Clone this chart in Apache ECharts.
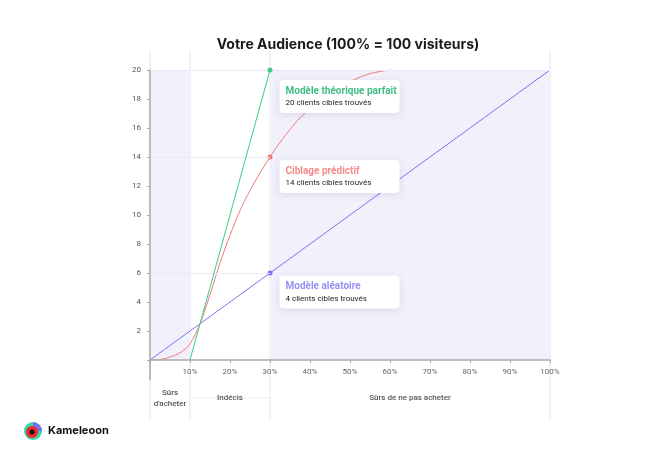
<!DOCTYPE html>
<html>
<head>
<meta charset="utf-8">
<title>Votre Audience</title>
<script src="https://cdn.jsdelivr.net/npm/echarts@6/dist/echarts.min.js"></script>
<style>
  html, body { margin: 0; padding: 0; background: #fff; }
  #chart { width: 665px; height: 460px; }
</style>
</head>
<body>
<div id="chart"></div>
<script>
// audience % (x) / clients cibles (y)
const parfaitX = [10, 30];
const parfaitY = [0, 20];
const predictifX = [0, 2.5, 5, 7.5, 10, 12.5, 15, 17.5, 20, 22.5, 25, 27.5, 30, 32.5, 35, 37.5, 40, 45, 50, 55, 60];
const predictifY = [0, 0.03, 0.2, 0.5, 1.1, 2.5, 4.5, 6.7, 8.6, 10.3, 11.7, 12.9, 14, 15, 15.9, 16.7, 17.3, 18.4, 19.2, 19.75, 20];
const aleatoireX = [0, 30, 100];
const aleatoireY = [0, 6, 20];

const segments = [[0, 10], [10, 30], [30, 100]];
const segmentLabels = ["Sûrs\nd'acheter", "Indécis", "Sûrs de ne pas acheter"];
const shaded = [[0, 10], [30, 100]];

const boxTitles = ["Modèle théorique parfait", "Ciblage prédictif", "Modèle aléatoire"];
const boxTexts = ["20 clients cibles trouvés", "14 clients cibles trouvés", "4 clients cibles trouvés"];
const colors = ["#3dcb8a", "#f07b7b", "#7a74f0"];
const boxTitleColors = ["#3fbf83", "#f58a8a", "#9690f5"];

const FONT = "Roboto, 'Noto Sans', sans-serif";

function makeData(xs, ys, idx, dy) {
  return xs.map(function (x, i) {
    if (x !== 30) return { value: [x, ys[i]], symbolSize: 0 };
    return {
      value: [x, ys[i]],
      symbolSize: 5,
      label: {
        show: true,
        position: [12, dy],
        formatter: '{t|' + boxTitles[idx] + '}\n{s|' + boxTexts[idx] + '}',
        backgroundColor: '#fff',
        borderRadius: 4,
        padding: [4, 6, 5, 6],
        width: 108,
        shadowBlur: 8,
        shadowOffsetY: 2,
        shadowColor: 'rgba(60,60,90,0.12)',
        rich: {
          t: { fontFamily: FONT, fontSize: 10, fontWeight: 'bold', color: boxTitleColors[idx], lineHeight: 14 },
          s: { fontFamily: FONT, fontSize: 8, color: '#222', lineHeight: 10 }
        }
      }
    };
  });
}

const chart = echarts.init(document.getElementById('chart'));

const option = {
  animation: false,
  title: {
    text: 'Votre Audience (100% = 100 visiteurs)',
    left: 343,
    textAlign: 'center',
    top: 33,
    textStyle: { fontFamily: "Inter, 'Open Sans', sans-serif", fontSize: 14, fontWeight: 'bold', color: '#1a1a1a' }
  },
  grid: { left: 150, right: 115, top: 70, bottom: 100 },
  xAxis: {
    type: 'value', min: 0, max: 100, interval: 10, z: 6,
    axisLine: { lineStyle: { color: '#aaa', width: 1.5 } },
    axisTick: { show: true, length: 3, lineStyle: { color: '#aaa' } },
    splitLine: { show: false },
    axisLabel: {
      margin: 8, fontSize: 8, color: '#666', fontFamily: FONT,
      formatter: function (v) { return v === 0 ? '' : v + '%'; }
    }
  },
  yAxis: {
    type: 'value', min: 0, max: 20, interval: 2, z: 6,
    axisLine: { show: true, lineStyle: { color: '#aaa', width: 1.5 } },
    axisTick: { show: true, length: 3, lineStyle: { color: '#aaa' } },
    splitLine: { show: false },
    axisLabel: {
      margin: 9, fontSize: 8, color: '#555', fontFamily: FONT,
      formatter: function (v) { return v === 0 ? '' : v; }
    }
  },
  series: [
    {
      name: 'fond', type: 'line', data: [], z: 1, silent: true,
      markArea: {
        silent: true,
        itemStyle: { color: '#f1f0fb' },
        data: shaded.map(function (s) { return [{ xAxis: s[0], yAxis: 0 }, { xAxis: s[1], yAxis: 20 }]; })
      },
      markLine: {
        silent: true, symbol: 'none', label: { show: false },
        lineStyle: { color: '#ebe9f8', width: 1, type: 'solid' },
        data: [
          [{ coord: [0, 20] }, { coord: [100, 20] }],
          [{ coord: [0, 14] }, { coord: [30, 14] }],
          [{ coord: [0, 6] }, { coord: [30, 6] }]
        ]
      }
    },
    {
      name: 'Modèle aléatoire', type: 'line', z: 3,
      data: makeData(aleatoireX, aleatoireY, 2, 5),
      lineStyle: { color: colors[2], width: 1 },
      itemStyle: { color: colors[2] },
      symbol: 'circle'
    },
    {
      name: 'Ciblage prédictif', type: 'line', z: 4, smooth: 0.3,
      data: makeData(predictifX, predictifY, 1, 5.5),
      lineStyle: { color: colors[1], width: 1 },
      itemStyle: { color: colors[1] },
      symbol: 'circle'
    },
    {
      name: 'Modèle théorique parfait', type: 'line', z: 5,
      data: makeData(parfaitX, parfaitY, 0, 12.5),
      lineStyle: { color: colors[0], width: 1 },
      itemStyle: { color: colors[0] },
      symbol: 'circle'
    }
  ]
};

chart.setOption(option);

// lignes verticales et libellés sous l'axe, placés avec l'échelle de l'axe x
const graphics = [];
const yTop = 50, yBottom = 420, yText = 398;
[0, 10, 30, 100].forEach(function (v) {
  const px = chart.convertToPixel({ xAxisIndex: 0 }, v);
  graphics.push({
    type: 'line', z: -1, silent: true,
    shape: { x1: px, y1: yTop, x2: px, y2: yBottom },
    style: { stroke: '#eeedf9', lineWidth: 1.5 }
  });
});
// prolongement de l'axe y sous l'axe x
const x0 = chart.convertToPixel({ xAxisIndex: 0 }, 0);
const y0 = chart.convertToPixel({ yAxisIndex: 0 }, 0);
graphics.push({
  type: 'line', silent: true,
  shape: { x1: x0, y1: y0, x2: x0, y2: y0 + 20 },
  style: { stroke: '#aaa', lineWidth: 1.5 }
});
segments.forEach(function (s, i) {
  const a = chart.convertToPixel({ xAxisIndex: 0 }, s[0]);
  const b = chart.convertToPixel({ xAxisIndex: 0 }, s[1]);
  const c = (a + b) / 2;
  graphics.push({
    type: 'text', silent: true, x: c, y: yText,
    style: {
      text: segmentLabels[i], fill: '#555', font: '500 8px ' + FONT,
      align: 'center', verticalAlign: 'middle', lineHeight: 11
    }
  });
  if (i === 1) {
    graphics.push({ type: 'line', silent: true, shape: { x1: a, y1: yText, x2: c - 13, y2: yText }, style: { stroke: '#eeedf6', lineWidth: 1 } });
    graphics.push({ type: 'line', silent: true, shape: { x1: c + 13, y1: yText, x2: b, y2: yText }, style: { stroke: '#eeedf6', lineWidth: 1 } });
  }
});

// logo Kameleoon
graphics.push(
  { type: 'circle', shape: { cx: 33, cy: 431, r: 9 }, style: { fill: '#36d9a4' } },
  { type: 'sector', shape: { cx: 33, cy: 431, r: 9, startAngle: -Math.PI / 2, endAngle: 0 }, style: { fill: '#7b6cf0' } },
  { type: 'circle', shape: { cx: 32, cy: 432, r: 6 }, style: { fill: '#e82a2a' } },
  { type: 'circle', shape: { cx: 32, cy: 432, r: 2.5 }, style: { fill: '#111' } },
  {
    type: 'text', x: 48, y: 431,
    style: { text: 'Kameleoon', fill: '#111', font: 'bold 11px ' + "Inter, 'Open Sans', sans-serif", verticalAlign: 'middle' }
  }
);

chart.setOption({ graphic: graphics });
</script>
</body>
</html>
